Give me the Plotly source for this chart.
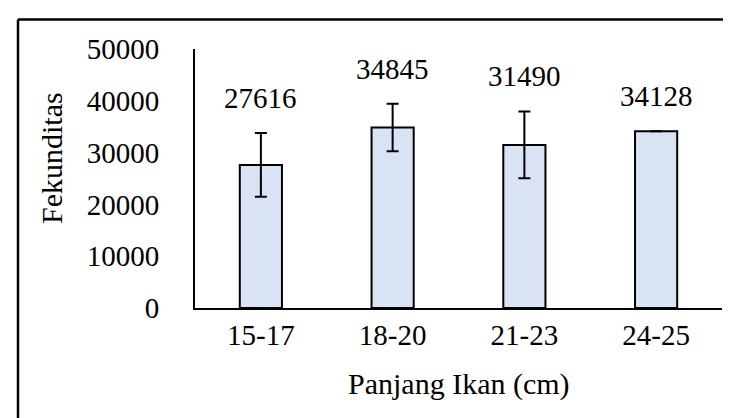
import plotly.graph_objects as go

categories = ["15-17", "18-20", "21-23", "24-25"]
fekunditas = [27616, 34845, 31490, 34128]
std_dev = [6150, 4600, 6450, 0]

W, H = 731, 418
L, R, T, B = 187, 17, 41, 118
pw, ph = W - L - R, H - T - B
FONT = "Times New Roman, Liberation Serif, serif"

fig = go.Figure()
fig.add_trace(go.Bar(
    x=categories,
    y=fekunditas,
    marker=dict(color="#DAE3F3", line=dict(color="black", width=2)),
    error_y=dict(type="data", array=std_dev, visible=True,
                 color="black", thickness=2, width=6),
    width=0.32,
))

# value labels above error bars
for cat, val, err in zip(categories, fekunditas, std_dev):
    fig.add_annotation(x=cat, y=val + err, text=str(val), showarrow=False,
                       yanchor="bottom", yshift=17,
                       font=dict(family=FONT, size=29, color="black"))

# axis titles
fig.add_annotation(text="Fekunditas", xref="paper", yref="paper",
                   x=(43 - L) / pw, y=(300 - 150) / ph, textangle=-90,
                   showarrow=False, xanchor="center", yanchor="middle",
                   font=dict(family=FONT, size=30, color="black"))
fig.add_annotation(text="Panjang Ikan (cm)", xref="paper", yref="paper",
                   x=0.5, y=(300 - 376) / ph, showarrow=False,
                   xanchor="center", yanchor="middle",
                   font=dict(family=FONT, size=30, color="black"))

# outer frame (left and top edges)
fig.add_shape(type="line", xref="paper", yref="paper",
              x0=(10 - L) / pw, x1=(10 - L) / pw,
              y0=(300 - 430) / ph, y1=1 + (T - 11.5) / ph,
              line=dict(color="black", width=2.5))
fig.add_shape(type="line", xref="paper", yref="paper",
              x0=(10 - L) / pw, x1=(740 - L) / pw,
              y0=1 + (T - 11.5) / ph, y1=1 + (T - 11.5) / ph,
              line=dict(color="black", width=2.5))

fig.update_layout(
    width=W, height=H,
    margin=dict(l=L, r=R, t=T, b=B),
    plot_bgcolor="white", paper_bgcolor="white",
    showlegend=False,
    font=dict(family=FONT, size=29, color="black"),
    xaxis=dict(showline=True, linecolor="black", linewidth=2,
               showgrid=False, ticks="", ticklabelstandoff=0,
               tickfont=dict(family=FONT, size=29, color="black")),
    yaxis=dict(range=[0, 50000], dtick=10000, showline=True,
               linecolor="black", linewidth=2, showgrid=False,
               zeroline=False, ticks="", ticklabelstandoff=28,
               tickformat="d",
               tickfont=dict(family=FONT, size=29, color="black")),
)

fig.write_html("out.html")
